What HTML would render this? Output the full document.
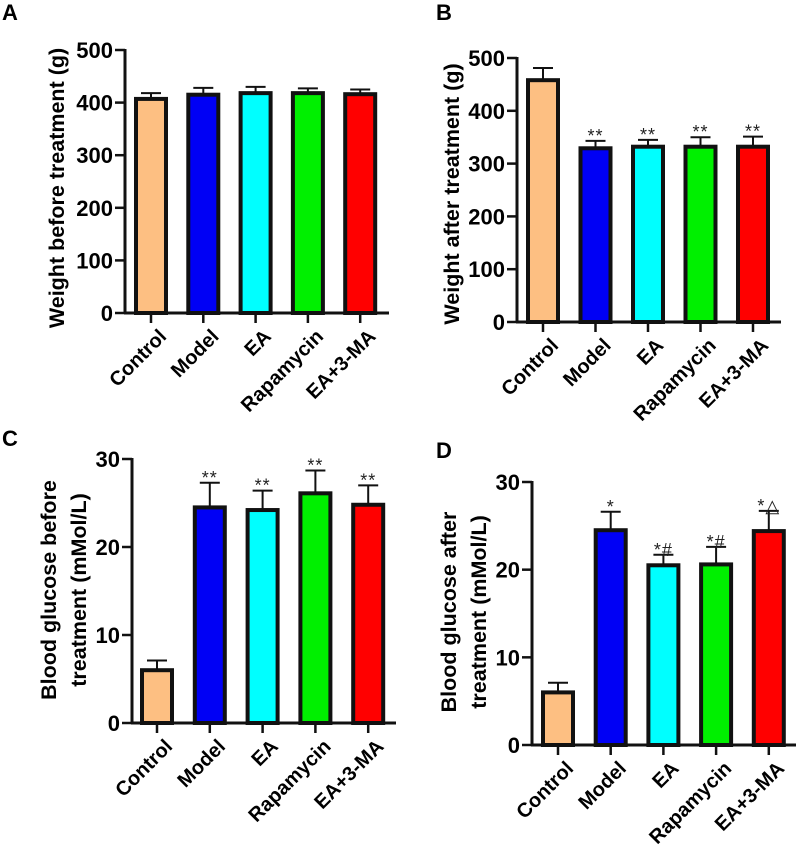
<!DOCTYPE html>
<html><head><meta charset="utf-8"><style>
body{margin:0;background:#fff;}
svg{display:block;font-family:"Liberation Sans",Arial,sans-serif;font-weight:bold;}
</style></head><body>
<svg id="fig" width="797" height="851" viewBox="0 0 797 851"></svg>
<script>
const categories=["Control","Model","EA","Rapamycin","EA+3-MA"];
const colors=["#FDBF82","#0000F5","#00FFFF","#00F000","#FF0000"];
const aVals=[407,415,418,418,416];
const aErr=[11,13,12,9,9];
const bVals=[458,329,332,332,332];
const bErr=[23,14,13,18,19];
const cVals=[6,24.5,24.2,26.1,24.8];
const cErr=[1.1,2.8,2.2,2.6,2.2];
const dVals=[6,24.5,20.5,20.6,24.4];
const dErr=[1.1,2.1,1.2,2.0,2.3];
const bMarks=["","**","**","**","**"];
const cMarks=["","**","**","**","**"];
const dMarks=["","*","*#","*#","*\u25B3"];
const wTicks=[0,100,200,300,400,500];
const gTicks=[0,10,20,30];
const NS="http://www.w3.org/2000/svg";
const svg=document.getElementById('fig');
function el(t,a,p){const e=document.createElementNS(NS,t);for(const k in a)e.setAttribute(k,a[k]);(p||svg).appendChild(e);return e;}
function panel(o){
  const g=el('g',{});
  
  
  const y=v=>o.y0-(v/o.max)*(o.y0-o.yTop);
  const x=i=>o.c0+i*o.step;
  const lt=el('text',{x:o.lx,y:o.ly,'font-size':22},g);lt.textContent=o.id;
  
  o.vals.forEach((v,i)=>{
    const cx=x(i),top=y(v),et=y(v+o.err[i]);
    const eb=el('g',{},g);
    
    
    el('line',{x1:cx,x2:cx,y1:top,y2:et,stroke:'#111','stroke-width':2},eb);
    el('line',{x1:cx-10,x2:cx+10,y1:et,y2:et,stroke:'#111','stroke-width':2},eb);
    const r=el('rect',{x:cx-15,y:top,width:30,height:o.y0-top,fill:colors[i],stroke:'#111','stroke-width':4},g);
    
    
    if(o.marks&&o.marks[i]){
      const m=el('text',{x:cx,y:et+1,'text-anchor':'middle','font-size':18,'font-weight':'normal',fill:'#222','letter-spacing':1},g);
      m.textContent=o.marks[i];
      
      
    }
    el('line',{x1:cx,x2:cx,y1:o.y0,y2:o.y0+10,stroke:'#111','stroke-width':2.5},g);
    const ax=cx+7,ay=o.y0+15;
    const t=el('text',{x:ax,y:ay,'text-anchor':'end','font-size':20,transform:`rotate(-45 ${ax} ${ay})`,'dominant-baseline':'hanging'},g);
    t.textContent=categories[i];
    
    
  });
  const ya=el('line',{x1:o.ax,x2:o.ax,y1:o.yTop-1,y2:o.y0,stroke:'#111','stroke-width':3},g);
  
  const xa=el('line',{x1:o.ax-1,x2:o.xEnd,y1:o.y0,y2:o.y0,stroke:'#111','stroke-width':3},g);
  
  o.ticks.forEach(tv=>{
    const ty=y(tv);
    el('line',{x1:o.ax-10,x2:o.ax,y1:ty,y2:ty,stroke:'#111','stroke-width':2.5},g);
    const t=el('text',{x:o.ax-12,y:ty+8,'text-anchor':'end','font-size':22},g);
    t.textContent=tv;
    
    
  });
  const tt=el('text',{'text-anchor':'middle','font-size':21.5,transform:`translate(${o.tx} ${o.ty}) rotate(-90)`},g);
  
  o.title.forEach((line,k)=>{const s=el('tspan',{x:0,y:k*30},tt);s.textContent=line;});
}
panel({id:'A',lx:2,ly:20,ax:125,yTop:50,y0:313,max:500,c0:151,step:52.3,xEnd:389,vals:aVals,err:aErr,ticks:wTicks,tx:64,ty:188,title:["Weight before treatment (g)"]});
panel({id:'B',lx:436,ly:20,ax:517,yTop:58,y0:322,max:500,c0:543,step:52.5,xEnd:781,vals:bVals,err:bErr,marks:bMarks,ticks:wTicks,tx:459,ty:194,title:["Weight after treatment (g)"]});
panel({id:'C',lx:2,ly:446,ax:132,yTop:459,y0:723,max:30,c0:157,step:52.8,xEnd:396,vals:cVals,err:cErr,marks:cMarks,ticks:gTicks,tx:56,ty:590,title:["Blood glucose before","treatment (mMol/L)"]});
panel({id:'D',lx:436,ly:458,ax:532,yTop:482,y0:745,max:30,c0:558,step:52.7,xEnd:796,vals:dVals,err:dErr,marks:dMarks,ticks:gTicks,tx:456,ty:612,title:["Blood glucose after","treatment (mMol/L)"]});
</script>
</body></html>
